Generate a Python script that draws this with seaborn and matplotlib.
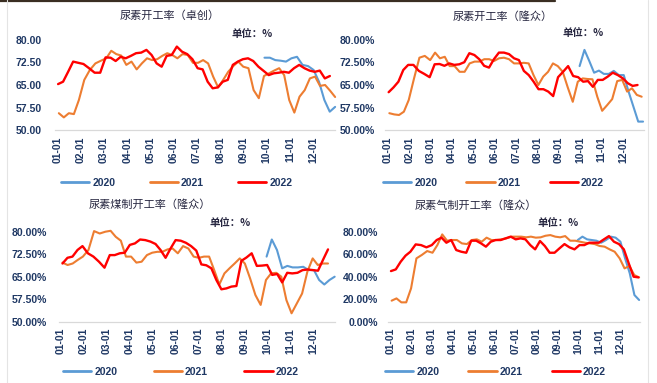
import numpy as np
import pandas as pd
import matplotlib
matplotlib.use('Agg')
import matplotlib.pyplot as plt
from matplotlib.lines import Line2D
import seaborn as sns

# ---- data ----
months = ['01-01', '02-01', '03-01', '04-01', '05-01', '06-01',
          '07-01', '08-01', '09-01', '10-01', '11-01', '12-01']

# 尿素开工率（卓创）
zc_2020 = [74.1, 74.1, 73.3, 73.1, 72.8, 73.9, 74.4, 71.7, 71.3, 70.0, 66.1, 60.0, 56.1, 57.7]
zc_2021 = [55.6, 54.2, 55.6, 55.3, 60.0, 66.7, 70.0, 72.2, 73.1, 73.9, 76.4, 75.3, 74.8, 71.7,
           72.8, 70.2, 72.2, 73.9, 73.3, 73.6, 74.7, 75.6, 75.0, 73.9, 75.3, 75.0, 72.4, 72.4,
           73.3, 72.2, 67.8, 64.2, 66.7, 69.4, 71.3, 72.8, 71.1, 70.6, 63.3, 60.6, 68.0, 68.9,
           69.8, 70.6, 68.3, 60.0, 55.8, 61.1, 63.3, 67.2, 67.8, 64.7, 65.0, 63.1, 61.0]
zc_2022 = [65.3, 66.1, 69.4, 72.8, 72.4, 72.0, 70.6, 69.1, 69.1, 74.2, 74.1, 73.0, 74.4, 73.9,
           74.7, 75.6, 75.8, 76.7, 75.0, 72.2, 71.1, 74.7, 75.0, 77.8, 76.1, 75.3, 73.6, 70.6,
           70.2, 66.1, 63.9, 64.2, 66.1, 66.7, 71.7, 72.8, 73.6, 73.9, 73.0, 71.1, 69.7, 68.3,
           68.9, 69.1, 69.4, 69.1, 70.6, 71.7, 70.6, 69.8, 69.4, 69.8, 67.2, 68.0]

# 尿素开工率（隆众）
lz_2020 = [71.3, 76.7, 73.0, 69.1, 69.8, 68.7, 68.7, 69.7, 68.3, 68.3, 62.8, 57.8, 52.8, 52.8]
lz_2021 = [55.6, 55.2, 55.0, 56.1, 60.0, 67.2, 74.1, 74.7, 73.3, 75.8, 73.9, 74.4, 71.3, 71.3,
           69.4, 69.4, 72.2, 72.8, 72.8, 73.6, 73.6, 73.0, 73.9, 74.1, 73.6, 72.2, 72.2, 72.4,
           72.2, 68.3, 65.0, 67.8, 69.4, 72.2, 71.3, 69.4, 64.2, 59.4, 66.1, 67.2, 67.0, 66.9,
           61.1, 56.4, 58.3, 60.3, 66.3, 66.7, 62.8, 63.9, 61.7, 61.1]
lz_2022 = [62.6, 64.2, 66.1, 70.0, 71.7, 71.7, 69.7, 68.7, 67.6, 71.9, 72.0, 71.4, 72.2, 71.7,
           71.9, 72.6, 75.6, 75.0, 73.6, 71.4, 70.8, 73.6, 75.8, 75.8, 75.3, 73.9, 73.3, 69.7,
           68.3, 66.1, 63.6, 63.6, 62.8, 61.3, 67.6, 69.4, 71.3, 68.0, 67.6, 66.1, 66.3, 64.4,
           66.7, 66.7, 67.8, 69.1, 68.3, 67.2, 65.6, 64.7, 65.0]

# 尿素煤制开工率（隆众）
mz_2020 = [71.7, 77.4, 73.9, 67.8, 68.6, 68.1, 68.1, 68.3, 67.2, 67.2, 63.9, 62.4, 63.9, 65.0]
mz_2021 = [69.7, 68.9, 69.4, 70.6, 71.7, 73.9, 80.2, 79.4, 80.0, 80.3, 78.3, 77.0, 71.7, 71.7,
           69.7, 70.0, 72.2, 73.0, 73.3, 73.3, 74.1, 74.4, 72.8, 75.2, 74.4, 71.7, 71.3, 71.7,
           71.7, 67.2, 62.4, 66.1, 67.8, 69.4, 71.1, 69.4, 64.4, 58.9, 55.6, 63.9, 66.1, 66.3,
           65.0, 57.2, 52.8, 56.1, 59.4, 66.7, 71.1, 68.9, 69.4, 69.4]
mz_2022 = [69.4, 71.3, 71.7, 73.9, 75.2, 72.8, 71.7, 70.0, 68.0, 72.2, 72.2, 72.8, 73.0, 75.6,
           76.1, 77.4, 77.2, 76.7, 75.9, 73.9, 71.3, 74.4, 77.2, 77.0, 76.3, 75.2, 73.7, 69.1,
           68.8, 67.8, 63.9, 60.8, 61.1, 61.7, 61.9, 70.3, 71.4, 72.8, 68.6, 68.7, 68.9, 65.6,
           65.9, 63.1, 66.3, 66.1, 66.3, 67.2, 67.4, 67.2, 67.0, 70.6, 74.1]

# 尿素气制开工率（隆众）
qz_2020 = [72.6, 75.6, 73.2, 72.6, 72.0, 70.2, 72.6, 75.6, 74.7, 71.1, 56.3, 43.0, 23.7, 19.3]
qz_2021 = [18.7, 20.7, 17.2, 17.2, 29.6, 56.3, 59.3, 62.8, 61.3, 68.1, 77.6, 72.0, 72.6, 72.6,
           69.6, 69.0, 72.6, 73.2, 71.1, 74.7, 72.6, 72.6, 73.2, 74.1, 75.6, 75.6, 75.6, 75.0,
           75.6, 74.7, 75.0, 76.4, 77.0, 75.6, 75.0, 76.1, 72.0, 72.0, 71.1, 70.2, 69.6, 69.0,
           67.3, 66.7, 64.3, 62.2, 56.3, 47.4, 49.5, 41.5, 39.4]
qz_2022 = [45.0, 46.5, 53.3, 58.7, 62.2, 68.7, 68.1, 66.1, 68.1, 72.6, 74.7, 70.2, 72.6, 63.7,
           62.2, 61.3, 72.0, 72.0, 69.6, 66.7, 71.1, 72.6, 72.6, 74.1, 75.6, 73.2, 74.1, 73.2,
           68.1, 64.3, 71.7, 67.3, 61.3, 61.3, 65.2, 69.0, 66.1, 64.3, 68.1, 68.1, 70.2, 70.2,
           70.2, 73.2, 76.1, 71.1, 69.0, 64.3, 51.9, 40.0, 39.4]

# first / last date shown for each series (mm-dd)
zc_dates = {'2020': ('09-28', '12-30'), '2021': ('01-03', '12-30'), '2022': ('01-02', '12-23')}
lz_dates = {'2020': ('09-30', '12-30'), '2021': ('01-03', '12-28'), '2022': ('01-02', '12-22')}
mz_dates = {'2020': ('09-30', '12-30'), '2021': ('01-03', '12-21'), '2022': ('01-03', '12-21')}
qz_dates = {'2020': ('09-30', '12-29'), '2021': ('01-03', '12-29'), '2022': ('01-02', '12-28')}

# ---- style ----
sns.set_theme(style='white')
plt.rcParams['font.family'] = ['Liberation Sans', 'Noto Sans CJK SC']
CJK = ['Noto Sans CJK SC', 'DejaVu Sans']
NAVY = '#1F3864'
DARK = '#262640'
GRID = '#D9D9D9'
palette = {'2020': '#5B9BD5', '2021': '#ED7D31', '2022': '#FF0000'}
widths = {'2020': 1.5, '2021': 1.5, '2022': 1.7}

W, H = 657, 383
fig = plt.figure(figsize=(W / 100, H / 100), dpi=100)


def month_pos(start, end, n):
    d = pd.date_range('2021-' + start, '2021-' + end, periods=n)
    return np.asarray((d.month - 1) + (d.day - 1 + d.hour / 24) / d.days_in_month)


def draw_panel(box, xlim, ylim, yticks, ylabels, ypad, series, dates,
               title, tpos, upos, lpos, colsp):
    x0, x1, y0, y1 = box
    ax = fig.add_axes([x0 / W, 1 - y1 / H, (x1 - x0) / W, (y1 - y0) / H])
    ax.patch.set_alpha(0)
    for yr in ['2020', '2021', '2022']:
        vals = series[yr]
        xs = month_pos(dates[yr][0], dates[yr][1], len(vals))
        df = pd.DataFrame({'x': xs, 'v': vals})
        sns.lineplot(data=df, x='x', y='v', ax=ax, color=palette[yr],
                     lw=widths[yr], legend=False, sort=False)
    for ln in ax.lines:
        ln.set_clip_on(False)
    ax.set_xlim(*xlim)
    ax.set_ylim(*ylim)
    ax.set_xlabel('')
    ax.set_ylabel('')
    ax.set_xticks(range(12))
    ax.set_xticklabels(months, rotation=90, fontsize=7.5, fontweight='bold', color=NAVY)
    ax.set_yticks(yticks)
    ax.set_yticklabels(ylabels, fontsize=7.5, fontweight='bold', color=NAVY)
    ax.tick_params(axis='x', length=3, width=0.8, color=GRID, pad=1.5, direction='out')
    ax.tick_params(axis='y', length=0, pad=ypad)
    for s in ['top', 'right', 'left']:
        ax.spines[s].set_visible(False)
    ax.spines['bottom'].set_color(GRID)
    ax.spines['bottom'].set_linewidth(0.9)
    ax.grid(False)

    fig.text(tpos[0] / W, 1 - tpos[1] / H, title, ha='center', va='center',
             fontsize=8, color=DARK, family=CJK)
    fig.text(upos[0] / W, 1 - upos[1] / H, '单位：%', ha='center', va='center',
             fontsize=7.5, fontweight='bold', color=DARK, family=CJK)

    handles = [Line2D([], [], color=palette[y], lw=2) for y in ['2020', '2021', '2022']]
    leg = ax.legend(handles, ['2020', '2021', '2022'], loc='center left',
                    bbox_to_anchor=(lpos[0] / W, 1 - lpos[1] / H),
                    bbox_transform=fig.transFigure, ncol=3, frameon=False,
                    handlelength=2.7, handletextpad=0.3, columnspacing=colsp,
                    borderpad=0, borderaxespad=0,
                    prop={'weight': 'bold', 'size': 7.5})
    for t in leg.get_texts():
        t.set_color(NAVY)
    return ax


pct4 = ['50.00%', '57.50%', '65.00%', '72.50%', '80.00%']
ticks4 = [50, 57.5, 65, 72.5, 80]

draw_panel((55, 335, 40, 130), (-0.1, 11.93), (50, 80), ticks4,
           ['50.00', '57.50', '65.00', '72.50', '80.00'], 9.6,
           {'2020': zc_2020, '2021': zc_2021, '2022': zc_2022}, zc_dates,
           '尿素开工率（卓创）', (170, 16), (252, 34), (61, 183), 3.3)

draw_panel((385.4, 644, 40, 130), (-0.12, 11.98), (50, 80), ticks4, pct4, 7.7,
           {'2020': lz_2020, '2021': lz_2021, '2022': lz_2022}, lz_dates,
           '尿素开工率（隆众）', (503, 17), (583, 33), (383, 183), 2.8)

draw_panel((59.4, 335, 231.7, 321.7), (-0.07, 11.95), (50, 80), ticks4, pct4, 9.1,
           {'2020': mz_2020, '2021': mz_2021, '2022': mz_2022}, mz_dates,
           '尿素煤制开工率（隆众）', (150, 205), (230, 223), (63, 372), 3.5)

draw_panel((388, 640.3, 231.7, 321.7), (-0.11, 11.96), (0, 80), [0, 20, 40, 60, 80],
           ['0.00%', '20.00%', '40.00%', '60.00%', '80.00%'], 7.2,
           {'2020': qz_2020, '2021': qz_2021, '2022': qz_2022}, qz_dates,
           '尿素气制开工率（隆众）', (476, 206), (558, 223), (385, 372), 2.8)

# frame remnants of the pasted excel charts
fig.add_artist(Line2D([0, 555 / W], [1 - 0.8 / H, 1 - 0.8 / H], color='#3A2E22', lw=1.6))
fig.add_artist(Line2D([7 / W, 7 / W], [0, 1], color='#E4E4E4', lw=0.8))
fig.add_artist(Line2D([648 / W, 648 / W], [0, 1], color='#E4E4E4', lw=0.8))

fig.savefig('out.png', dpi=100)
